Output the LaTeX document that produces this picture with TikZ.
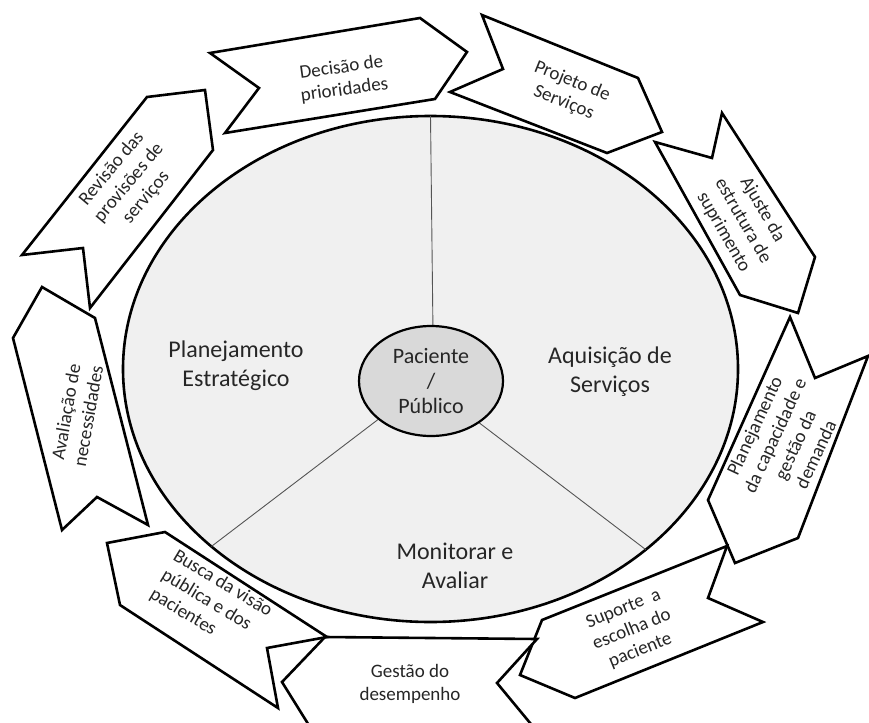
\documentclass[tikz,border=0pt]{standalone}
\usepackage{fontspec}
\setmainfont{Carlito}
\usetikzlibrary{shapes.geometric}
\definecolor{outerfill}{HTML}{F0F0F0}
\definecolor{innerfill}{HTML}{D9D9D9}
\definecolor{txt}{HTML}{262626}
\definecolor{spoke}{HTML}{555555}
\begin{document}
\begin{tikzpicture}[x=1pt,y=-1pt,
  arrowshape/.style={draw=black, line width=2.6pt, fill=white, line join=miter},
  arrowtext/.style={font=\fontsize{19}{22.5}\selectfont, text=txt, align=center, inner sep=0pt},
  bigtext/.style={font=\fontsize{24}{29}\selectfont, text=txt, align=center, inner sep=0pt},
  spokeline/.style={draw=spoke, line width=0.9pt}]
\useasboundingbox (0,0) rectangle (869,722);
\clip (0,0) rectangle (869,722);

% outer ellipse
\node[ellipse, draw=black, line width=2.6pt, fill=outerfill, minimum width=615pt,
      minimum height=506pt, inner sep=0pt, outer sep=0pt] (outer) at (430.5,369) {};
% inner ellipse (anchor reference)
\node[ellipse, minimum width=144pt, minimum height=110pt, inner sep=0pt, outer sep=0pt] (inner) at (431,381) {};
% spokes
\draw[spokeline] (inner.88) -- (outer.90.5);
\draw[spokeline] (inner.216) -- (outer.219.5);
\draw[spokeline] (inner.319.6) -- (outer.320.2);
% inner ellipse drawn on top of spokes
\node[ellipse, draw=black, line width=2.2pt, fill=innerfill, minimum width=144pt,
      minimum height=110pt, inner sep=0pt, outer sep=0pt] (innertop) at (431,381) {};

% arrows
\filldraw[arrowshape] (210,53) -- (259,88) -- (225,133) -- (435,99) -- (467,52) -- (420,18) -- cycle;
\filldraw[arrowshape] (482,15) -- (638,78) -- (662,132) -- (607,153) -- (450,92) -- (503,69) -- cycle;
\filldraw[arrowshape] (655,142) -- (712,158) -- (722,113) -- (815,257) -- (798,313) -- (740,295) -- cycle;
\filldraw[arrowshape] (790,317) -- (815,378) -- (868,356) -- (798,538) -- (735,563) -- (708,500) -- cycle;
\filldraw[arrowshape] (727,546) -- (708,598) -- (763,622) -- (575,698) -- (520,675) -- (542,620) -- cycle;
\filldraw[arrowshape] (325,637) -- (537,639) -- (497,683) -- (540,735) -- (315,735) -- (282,682) -- cycle;
\filldraw[arrowshape] (107,543) -- (165,532) -- (327,637) -- (267,648) -- (278,708) -- (120,605) -- cycle;
\filldraw[arrowshape] (42,287) -- (95,318) -- (148,525) -- (97,497) -- (62,530) -- (13,338) -- cycle;
\filldraw[arrowshape] (147,97) -- (205,90) -- (213,150) -- (90,308) -- (83,248) -- (22,255) -- cycle;

% arrow texts
\node[arrowtext, rotate=8] (t1) at (343,79) {Decisão de\\prioridades};
\node[arrowtext, rotate=-22] (t2) at (568,92) {Projeto de\\Serviços};
\node[arrowtext, rotate=-60] (t3) at (743,221) {Ajuste da\\estrutura de\\suprimento};
\node[arrowtext, rotate=65] (t4) at (785,440) {Planejamento\\da capacidade e\\gestão da\\demanda};
\node[arrowtext, rotate=22] (t5) at (632,630) {Suporte\ \ a\\escolha do\\paciente};
\node[arrowtext] (t6) at (410,684) {Gestão do\\desempenho};
\node[arrowtext, rotate=-31, align=left] (t7) at (211,603) {Busca da visão\\pública e dos\\pacientes};
\node[arrowtext, rotate=80] (t8) at (77,414) {Avaliação de\\necessidades};
\node[arrowtext, rotate=50] (t9) at (129,183) {Revisão das\\provisões de\\serviços};

% central texts
\node[bigtext] (pe) at (236,366) {Planejamento\\Estratégico};
\node[bigtext] (as) at (610,372) {Aquisição de\\Serviços};
\node[bigtext] (ma) at (455,566) {Monitorar e\\Avaliar};
\node[font=\fontsize{22}{25}\selectfont, text=txt, align=center, inner sep=0pt] (pp) at (431,381) {Paciente\\/\\Público};
\end{tikzpicture}
\end{document}
